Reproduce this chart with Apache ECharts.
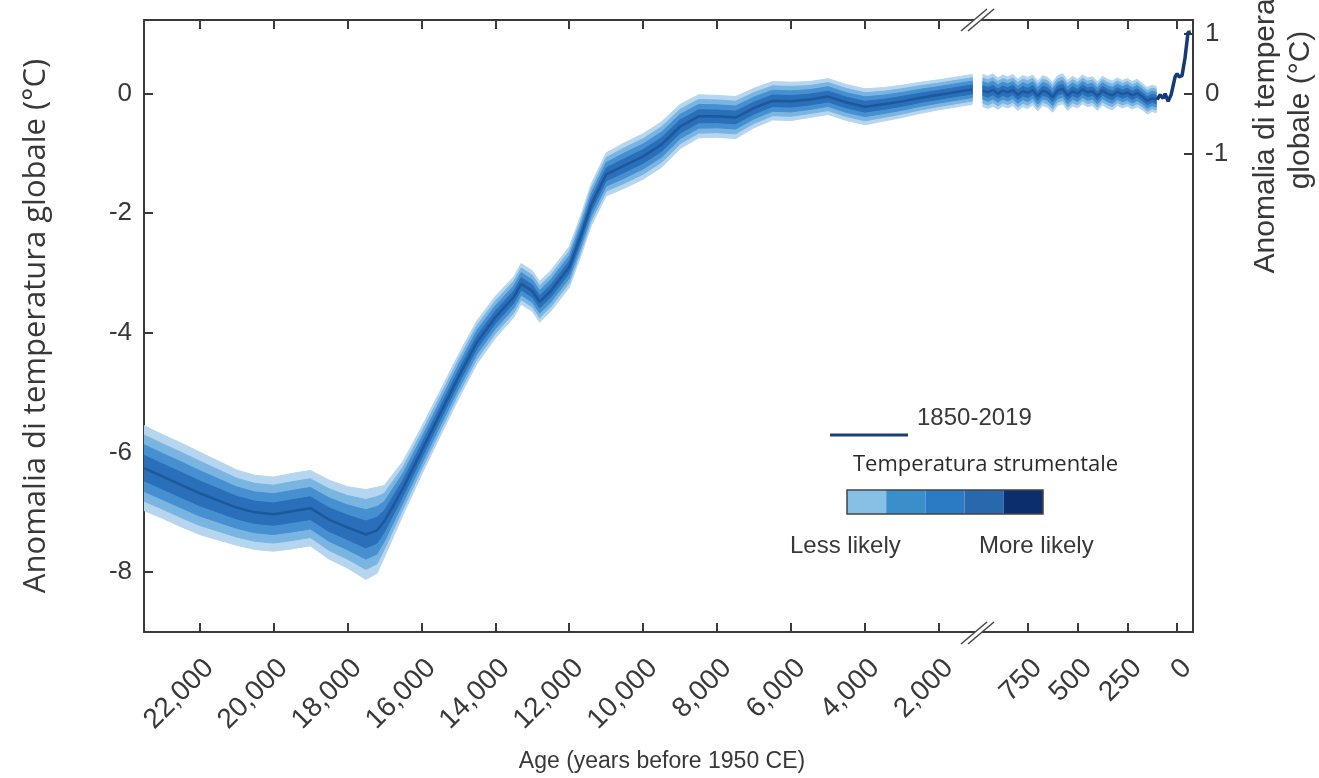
<!DOCTYPE html>
<html><head><meta charset="utf-8">
<script src="https://cdn.jsdelivr.net/npm/echarts@6/dist/echarts.min.js"></script>
<style>html,body{margin:0;padding:0;background:#fff}#c{width:1319px;height:778px}</style>
</head><body><div id="c"></div>
<script>
// ---- data ----
const ageLeft = [23500, 23000, 22500, 22000, 21500, 21000, 20500, 20000, 19500, 19000, 18500, 18000, 17500, 17200, 17000, 16500, 16000, 15500, 15000, 14500, 14000, 13500, 13300, 13000, 12800, 12500, 12000, 11700, 11400, 11000, 10500, 10000, 9500, 9000, 8500, 8000, 7500, 7000, 6500, 6000, 5500, 5000, 4500, 4000, 3500, 3000, 2500, 2000, 1500, 1100];
const medianLeft = [-6.26, -6.4, -6.54, -6.68, -6.8, -6.92, -7.0, -7.03, -6.98, -6.93, -7.12, -7.25, -7.37, -7.3, -7.15, -6.6, -5.98, -5.36, -4.74, -4.16, -3.74, -3.4, -3.18, -3.3, -3.48, -3.3, -2.9, -2.4, -1.85, -1.35, -1.2, -1.05, -0.85, -0.55, -0.38, -0.38, -0.4, -0.24, -0.12, -0.13, -0.1, -0.05, -0.15, -0.22, -0.18, -0.13, -0.07, -0.02, 0.03, 0.07];
const spreadLeft = [0.71, 0.7, 0.7, 0.69, 0.66, 0.63, 0.62, 0.62, 0.63, 0.63, 0.66, 0.68, 0.75, 0.72, 0.6, 0.45, 0.4, 0.38, 0.37, 0.36, 0.35, 0.34, 0.34, 0.34, 0.34, 0.34, 0.34, 0.34, 0.35, 0.36, 0.38, 0.38, 0.38, 0.37, 0.36, 0.35, 0.35, 0.33, 0.32, 0.32, 0.3, 0.3, 0.3, 0.3, 0.28, 0.27, 0.26, 0.25, 0.25, 0.25];

const ageRight = [975, 950, 925, 900, 875, 850, 825, 800, 775, 750, 725, 700, 675, 650, 625, 600, 575, 550, 525, 500, 475, 450, 425, 400, 375, 350, 325, 300, 275, 250, 225, 200, 175, 150, 125, 105];
const medianRight = [0.05, 0.02, 0.06, 0.0, 0.05, 0.02, 0.06, -0.02, 0.04, 0.01, 0.06, -0.04, 0.05, 0.02, -0.06, 0.05, 0.08, -0.03, 0.04, 0.0, 0.07, 0.02, 0.04, -0.04, 0.05, 0.0, -0.03, 0.03, -0.01, 0.02, -0.03, 0.01, -0.05, -0.12, -0.08, -0.1];
const spreadRight = [0.27, 0.27, 0.27, 0.26, 0.26, 0.26, 0.26, 0.26, 0.26, 0.26, 0.25, 0.25, 0.25, 0.25, 0.25, 0.25, 0.25, 0.25, 0.25, 0.24, 0.24, 0.24, 0.24, 0.24, 0.24, 0.24, 0.24, 0.23, 0.23, 0.23, 0.23, 0.23, 0.22, 0.22, 0.22, 0.22];

const ageInstr = [100, 85, 70, 60, 45, 30, 10, 0, -10, -25, -40, -55, -69];
const tempInstr = [-0.1, -0.02, -0.08, 0.0, -0.13, -0.02, 0.28, 0.33, 0.28, 0.3, 0.6, 1.02, 1.03];

const ticksLeft = [22000, 20000, 18000, 16000, 14000, 12000, 10000, 8000, 6000, 4000, 2000];
const ticksRight = [750, 500, 250, 0];
const ticksY = [-8, -6, -4, -2, 0];
const ticksYRight = [1, 0, -1];
const bandLevels = [1, 0.78, 0.55, 0.3];
const bandColors = ['#b6d5ef', '#7ab5e2', '#4690d1', '#2a6fb9'];
const legendColors = ['#86c0e6', '#3a8fcb', '#2b7bc4', '#2a68ad', '#0b2f6d'];

// ---- chart ----
const TXT = '#383838';
const FONT = '"Liberation Sans", Arial, sans-serif';
const chart = echarts.init(document.getElementById('c'), null, {renderer: 'canvas'});

function fanSeries(ages, med, spr, xi, yi) {
  const out = [];
  bandLevels.forEach((f, k) => {
    out.push({
      type: 'custom', xAxisIndex: xi, yAxisIndex: yi, silent: true, z: 2, clip: true,
      data: ages.map((a, i) => [a, med[i] - f * spr[i], med[i] + f * spr[i]]),
      encode: {x: 0, y: [1, 2]},
      renderItem: (params, api) => {
        if (params.dataIndex !== 0) return null;
        const pts = [];
        for (let i = 0; i < ages.length; i++) pts.push(api.coord([ages[i], med[i] - f * spr[i]]));
        for (let i = ages.length - 1; i >= 0; i--) pts.push(api.coord([ages[i], med[i] + f * spr[i]]));
        return {type: 'polygon', shape: {points: pts}, style: {fill: bandColors[k], stroke: bandColors[k], lineWidth: 1}};
      }
    });
  });
  out.push({type: 'line', xAxisIndex: xi, yAxisIndex: yi, symbol: 'none', silent: true, z: 3,
    lineStyle: {color: '#1d579c', width: 2.5},
    data: ages.map((a, i) => [a, med[i]])});
  return out;
}

const axisLineStyle = {show: true, onZero: false, lineStyle: {color: '#3a3a3a', width: 2}};
const tickStyle = (vals) => ({show: true, inside: true, length: 9, customValues: vals, lineStyle: {color: '#3a3a3a', width: 2}});
const fmt = v => Number(v).toLocaleString('en-US');
const xLabel = (vals) => ({customValues: vals, rotate: 45, margin: 22, verticalAlign: 'top', color: TXT, fontSize: 28, fontFamily: FONT, formatter: fmt});

const option = {
  backgroundColor: '#fff',
  animation: false,
  grid: [
    {left: 144, top: 20, width: 832, height: 612},
    {left: 976, top: 20, width: 217, height: 612}
  ],
  xAxis: [
    {gridIndex: 0, type: 'value', min: 1000, max: 23500, inverse: true, position: 'bottom',
      axisLine: axisLineStyle, axisTick: tickStyle(ticksLeft), splitLine: {show: false}, axisLabel: xLabel(ticksLeft)},
    {gridIndex: 0, type: 'value', min: 1000, max: 23500, inverse: true, position: 'top',
      axisLine: axisLineStyle, axisTick: tickStyle(ticksLeft), splitLine: {show: false}, axisLabel: {show: false}},
    {gridIndex: 1, type: 'value', min: -80, max: 1010, inverse: true, position: 'bottom',
      axisLine: axisLineStyle, axisTick: tickStyle(ticksRight), splitLine: {show: false}, axisLabel: xLabel(ticksRight)},
    {gridIndex: 1, type: 'value', min: -80, max: 1010, inverse: true, position: 'top',
      axisLine: axisLineStyle, axisTick: tickStyle(ticksRight), splitLine: {show: false}, axisLabel: {show: false}}
  ],
  yAxis: [
    {gridIndex: 0, type: 'value', min: -9, max: 1.23, position: 'left',
      axisLine: axisLineStyle, axisTick: tickStyle(ticksY), splitLine: {show: false},
      axisLabel: {customValues: ticksY, margin: 12, color: TXT, fontSize: 26, fontFamily: FONT},
      name: 'Anomalia di temperatura globale (°C)', nameLocation: 'middle', nameRotate: 90, nameGap: 92,
      nameTextStyle: {color: TXT, fontSize: 31, fontFamily: '"Open Sans", sans-serif'}},
    {gridIndex: 1, type: 'value', min: -9, max: 1.23, position: 'right',
      axisLine: axisLineStyle, axisTick: tickStyle(ticksYRight), splitLine: {show: false},
      axisLabel: {customValues: ticksYRight, margin: 12, color: TXT, fontSize: 26, fontFamily: FONT}}
  ],
  series: [
    ...fanSeries(ageLeft, medianLeft, spreadLeft, 0, 0),
    ...fanSeries(ageRight, medianRight, spreadRight, 2, 1),
    {type: 'line', name: '1850-2019', xAxisIndex: 2, yAxisIndex: 1, symbol: 'none', silent: true, z: 5,
      lineStyle: {color: '#153a74', width: 3.5},
      data: ageInstr.map((a, i) => [a, tempInstr[i]])}
  ],
  graphic: [
    // axis breaks
    {type: 'polygon', z: 100, shape: {points: [[961, 31], [987, 9], [994, 9], [968, 31]]}, style: {fill: '#fff'}},
    {type: 'line', z: 101, shape: {x1: 961, y1: 31, x2: 987, y2: 9}, style: {stroke: '#444', lineWidth: 1.5}},
    {type: 'line', z: 101, shape: {x1: 968, y1: 31, x2: 994, y2: 9}, style: {stroke: '#444', lineWidth: 1.5}},
    {type: 'polygon', z: 100, shape: {points: [[961, 644], [987, 622], [994, 622], [968, 644]]}, style: {fill: '#fff'}},
    {type: 'line', z: 101, shape: {x1: 961, y1: 644, x2: 987, y2: 622}, style: {stroke: '#444', lineWidth: 1.5}},
    {type: 'line', z: 101, shape: {x1: 968, y1: 644, x2: 994, y2: 622}, style: {stroke: '#444', lineWidth: 1.5}},
    // x axis title
    {type: 'text', z: 100, x: 662, y: 762, style: {text: 'Age (years before 1950 CE)', align: 'center', verticalAlign: 'middle', fill: TXT, font: '23px ' + FONT}},
    // right axis title (clipped by the page edge as in the reference)
    {type: 'text', z: 100, x: 1283, y: 110, rotation: Math.PI / 2,
      style: {text: 'Anomalia di temperatura\nglobale (°C)', align: 'center', verticalAlign: 'middle', lineHeight: 35, fill: TXT, font: '30px ' + FONT}},
    // legend
    {type: 'line', z: 100, shape: {x1: 830, y1: 435, x2: 908, y2: 435}, style: {stroke: '#1d3f78', lineWidth: 3}},
    {type: 'text', z: 100, x: 917, y: 418, style: {text: '1850-2019', verticalAlign: 'middle', fill: TXT, font: '24px ' + FONT}},
    {type: 'text', z: 100, x: 853, y: 465, style: {text: 'Temperatura strumentale', verticalAlign: 'middle', fill: '#2a2a2a', font: '22px "Open Sans", sans-serif'}},
    ...legendColors.map((c, i) => ({type: 'rect', z: 100, shape: {x: 847 + i * 39.2, y: 490, width: 39.2, height: 24}, style: {fill: c}})),
    {type: 'rect', z: 101, shape: {x: 847, y: 490, width: 196, height: 24}, style: {fill: 'none', stroke: '#444', lineWidth: 1.5}},
    {type: 'text', z: 100, x: 790, y: 546, style: {text: 'Less likely', verticalAlign: 'middle', fill: TXT, font: '24px ' + FONT}},
    {type: 'text', z: 100, x: 979, y: 546, style: {text: 'More likely', verticalAlign: 'middle', fill: TXT, font: '24px ' + FONT}}
  ]
};
chart.setOption(option);
</script>
</body></html>
